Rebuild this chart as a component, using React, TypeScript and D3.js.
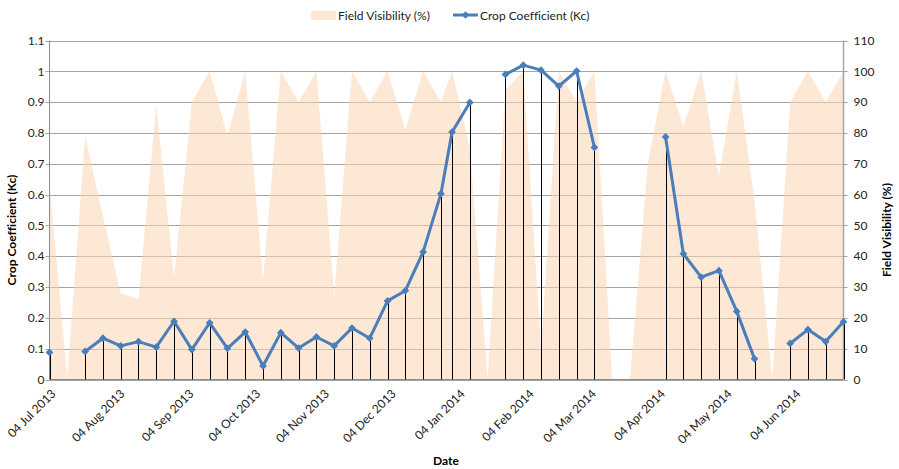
import React from "react";
import * as d3 from "d3";

// 8-day composite dates (two seasons)
const dates2013 = [
  "2013-07-04", "2013-07-12", "2013-07-20", "2013-07-28", "2013-08-05", "2013-08-13",
  "2013-08-21", "2013-08-29", "2013-09-06", "2013-09-14", "2013-09-22", "2013-09-30",
  "2013-10-08", "2013-10-16", "2013-10-24", "2013-11-01", "2013-11-09", "2013-11-17",
  "2013-11-25", "2013-12-03", "2013-12-11", "2013-12-19", "2013-12-27",
];
const dates2014 = [
  "2014-01-01", "2014-01-09", "2014-01-17", "2014-01-25", "2014-02-02", "2014-02-10",
  "2014-02-18", "2014-02-26", "2014-03-06", "2014-03-14", "2014-03-22", "2014-03-30",
  "2014-04-07", "2014-04-15", "2014-04-23", "2014-05-01", "2014-05-09", "2014-05-17",
  "2014-05-25", "2014-06-02", "2014-06-10", "2014-06-18", "2014-06-26",
];

// crop coefficient (null = no observation)
const kc2013 = [
  0.088, null, 0.091, 0.134, 0.109, 0.123, 0.105, 0.189, 0.097, 0.184, 0.101, 0.154,
  0.044, 0.152, 0.102, 0.138, 0.109, 0.167, 0.134, 0.255, 0.288, 0.414, 0.603,
];
const kc2014 = [
  0.803, 0.899, null, 0.99, 1.02, 1.004, 0.952, 1.001, 0.753, null, null, null,
  0.787, 0.408, 0.332, 0.353, 0.221, 0.067, null, 0.117, 0.162, 0.123, 0.187,
];

// field visibility (%)
const fv2013 = [
  64, 0, 79, 53, 28, 26, 89, 33, 90, 100, 79, 100,
  32, 100, 90, 100, 27, 100, 90, 100, 81, 100, 90,
];
const fv2014 = [
  100, 75, 0, 94, 100, 10, 100, 90, 100, 0, 0, 70,
  100, 82, 100, 66, 100, 58, 0, 90, 100, 90, 100,
];

const xTicks = [
  "2013-07-04", "2013-08-04", "2013-09-04", "2013-10-04", "2013-11-04", "2013-12-04",
  "2014-01-04", "2014-02-04", "2014-03-04", "2014-04-04", "2014-05-04", "2014-06-04",
];
const kcTicks = [0, 0.1, 0.2, 0.3, 0.4, 0.5, 0.6, 0.7, 0.8, 0.9, 1, 1.1];
const fvTicks = [0, 10, 20, 30, 40, 50, 60, 70, 80, 90, 100, 110];

const parse = d3.utcParse("%Y-%m-%d");
const fmt = d3.utcFormat("%d %b %Y");

const W = 899, H = 469;
const left = 49.5, right = 843.5, top = 40.5, bottom = 379.5;
const font = "Lato, 'Liberation Sans', sans-serif";
const txt = { fontVariantLigatures: "none" } as React.CSSProperties;

export default function App() {
  const dates = dates2013.concat(dates2014).map(s => parse(s) as Date);
  const kc = (kc2013 as (number | null)[]).concat(kc2014);
  const fv = fv2013.concat(fv2014);
  const rows = dates.map((d, i) => ({ date: d, kc: kc[i], fv: fv[i] }));

  const x = d3.scaleUtc()
    .domain([dates[0], dates[dates.length - 1]])
    .range([left, right]);
  const yKc = d3.scaleLinear().domain([0, 1.1]).range([bottom, top]);
  const yFv = d3.scaleLinear().domain([0, 110]).range([bottom, top]);

  const area = d3.area<any>()
    .x(d => x(d.date))
    .y0(yFv(0))
    .y1(d => yFv(d.fv));
  const line = d3.line<any>()
    .defined(d => d.kc != null)
    .x(d => x(d.date))
    .y(d => yKc(d.kc));
  const diamond = d3.symbol(d3.symbolSquare, 30)();

  const pts = rows.filter(d => d.kc != null);

  return (
    <div style={{ position: "absolute", left: 0, top: 0 }}>
      <svg width={W} height={H} style={{ display: "block", background: "#fff" }}>
        {/* gridlines */}
        {kcTicks.map(t => (
          <line key={"g" + t} x1={left - 4} x2={right + 4} y1={Math.round(yKc(t)) + 0.5}
            y2={Math.round(yKc(t)) + 0.5} stroke="#a3a3a3" strokeWidth={1} />
        ))}

        {/* field visibility area */}
        <path d={area(rows) || ""} fill="#fbd3b2" fillOpacity={0.55} />

        {/* axes */}
        <line x1={left} x2={left} y1={top} y2={bottom} stroke="#8c8c8c" />
        <line x1={right} x2={right} y1={top} y2={bottom} stroke="#a6a6a6" strokeWidth={1.5} />
        <line x1={left} x2={right} y1={bottom} y2={bottom} stroke="#8c8c8c" />

        {/* drop lines */}
        {pts.map((d, i) => (
          <line key={"dl" + i} x1={Math.round(x(d.date)) + 0.5} x2={Math.round(x(d.date)) + 0.5}
            y1={yKc(d.kc as number)} y2={bottom} stroke="#000" strokeWidth={1} />
        ))}

        {/* crop coefficient line */}
        <path d={line(rows) || ""} fill="none" stroke="#4a7ebb" strokeWidth={3} strokeLinejoin="round" />
        {pts.map((d, i) => (
          <path key={"m" + i} d={diamond || ""} fill="#4a7ebb"
            transform={`translate(${x(d.date)},${yKc(d.kc as number)}) rotate(45)`} />
        ))}

        {/* left tick labels */}
        {kcTicks.map(t => (
          <text key={"lt" + t} x={left - 5} y={yKc(t)} dy="0.35em" textAnchor="end"
            fontFamily={font} fontSize={12} fill="#222" style={txt}>{String(t)}</text>
        ))}
        {/* right tick labels */}
        {fvTicks.map(t => (
          <text key={"rt" + t} x={right + 10} y={yFv(t)} dy="0.35em" textAnchor="start"
            fontFamily={font} fontSize={12} fill="#222" style={txt}>{t}</text>
        ))}
        {/* x tick labels */}
        {xTicks.map(s => {
          const px = x(parse(s) as Date);
          return (
            <text key={"xt" + s} transform={`translate(${px + 4},${bottom + 12}) rotate(-45)`}
              textAnchor="end" dy="0.35em" fontFamily={font} fontSize={12} fill="#222" style={txt}>
              {fmt(parse(s) as Date)}
            </text>
          );
        })}

        {/* axis titles */}
        <text transform={`translate(16,${(top + bottom) / 2 + 20}) rotate(-90)`} textAnchor="middle"
          fontFamily={font} fontSize={12} fontWeight="bold" fill="#000" style={txt}>Crop Coefficient (Kc)</text>
        <text transform={`translate(891,${(top + bottom) / 2 + 20}) rotate(-90)`} textAnchor="middle"
          fontFamily={font} fontSize={12} fontWeight="bold" fill="#000" style={txt}>Field Visibility (%)</text>
        <text x={446} y={465} textAnchor="middle" fontFamily={font} fontSize={12}
          fontWeight="bold" fill="#000" style={txt}>Date</text>

        {/* legend */}
        <rect x={311} y={11} width={25} height={9} fill="#fbd3b2" fillOpacity={0.55} />
        <text x={338} y={19.5} fontFamily={font} fontSize={12} fill="#222" style={txt}>Field Visibility (%)</text>
        <line x1={453} x2={478} y1={15} y2={15} stroke="#4a7ebb" strokeWidth={3} />
        <path d={diamond || ""} fill="#4a7ebb" transform="translate(465.5,15) rotate(45)" />
        <text x={480} y={19.5} fontFamily={font} fontSize={12} fill="#222" style={txt}>Crop Coefficient (Kc)</text>
      </svg>
    </div>
  );
}
